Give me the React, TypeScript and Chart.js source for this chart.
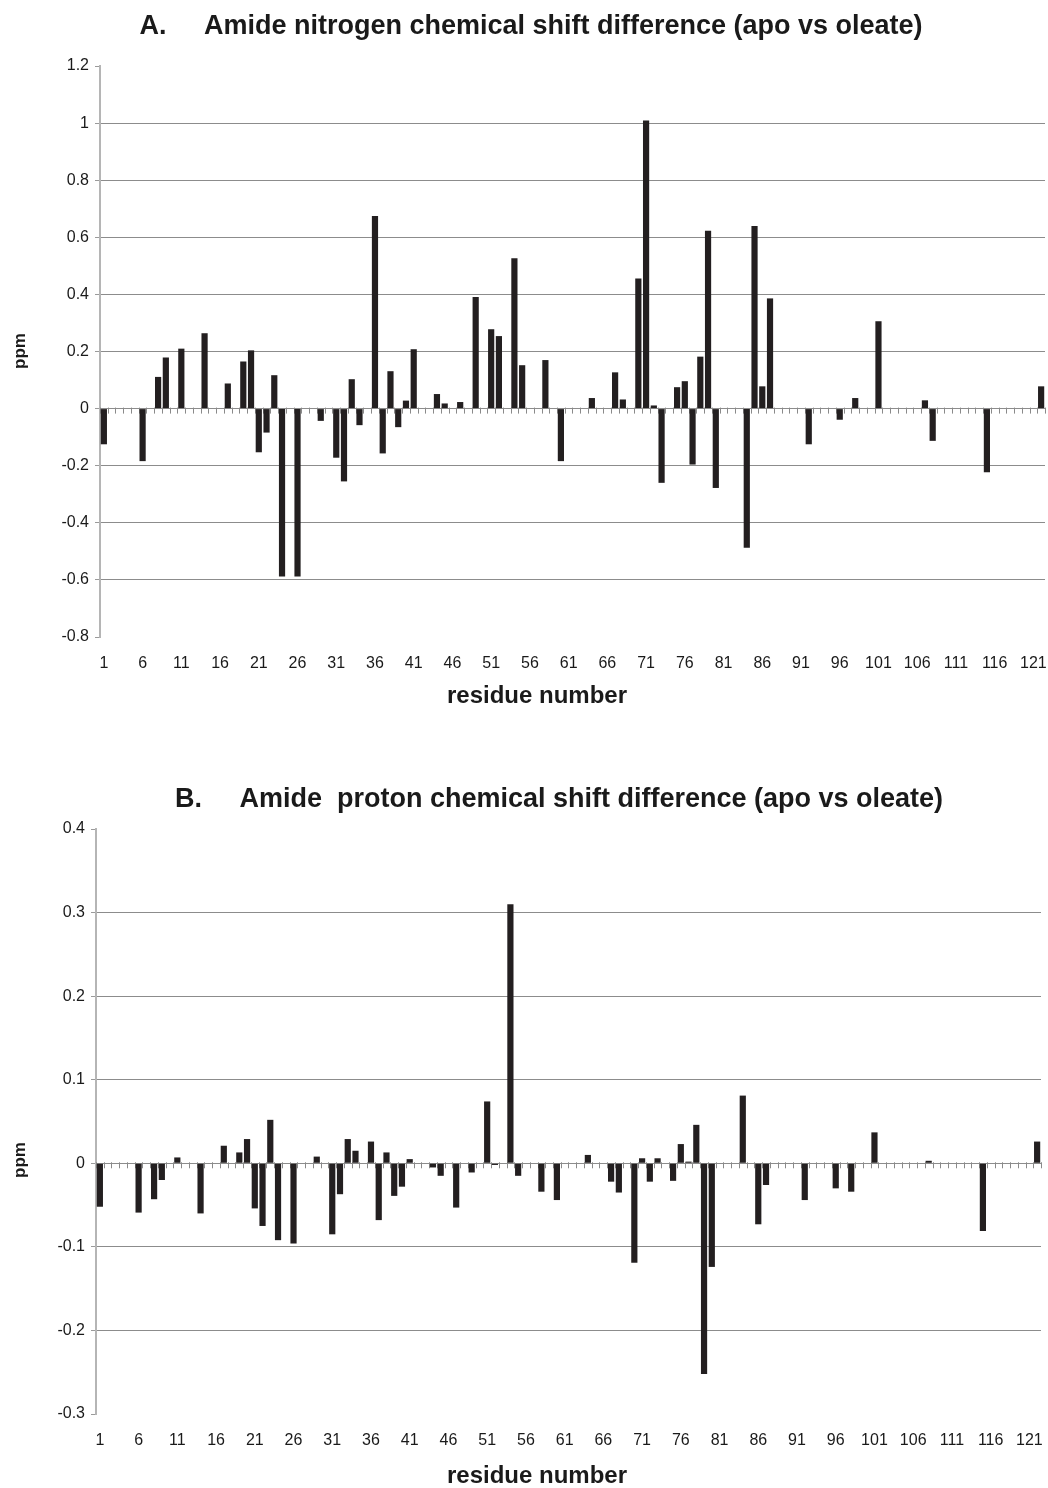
import React, { useEffect, useRef } from 'react';
import { Chart, registerables } from 'chart.js';

Chart.register(...registerables);

// ---- data ----
const residueCount = 122;
const residueLabels: string[] = [];
for (let r = 1; r <= residueCount; r++) residueLabels.push(String(r));

const nitrogenResidues = [1, 6, 8, 9, 11, 14, 17, 19, 20, 21, 22, 23, 24, 26, 29, 31, 32, 33, 34, 36, 37, 38, 39, 40, 41, 44, 45, 47, 49, 51, 52, 54, 55, 58, 60, 64, 67, 68, 70, 71, 72, 73, 75, 76, 77, 78, 79, 80, 84, 85, 86, 87, 92, 96, 98, 101, 107, 108, 115, 122];
const nitrogenShifts = [-0.125, -0.184, 0.111, 0.179, 0.21, 0.264, 0.088, 0.165, 0.204, -0.153, -0.084, 0.117, -0.588, -0.588, -0.043, -0.172, -0.255, 0.103, -0.058, 0.675, -0.157, 0.131, -0.065, 0.028, 0.208, 0.051, 0.018, 0.023, 0.391, 0.278, 0.254, 0.527, 0.152, 0.17, -0.184, 0.037, 0.127, 0.032, 0.456, 1.009, 0.011, -0.26, 0.075, 0.096, -0.196, 0.182, 0.623, -0.278, -0.487, 0.64, 0.078, 0.386, -0.125, -0.039, 0.037, 0.306, 0.029, -0.113, -0.223, 0.078];

const protonResidues = [1, 6, 8, 9, 11, 14, 17, 19, 20, 21, 22, 23, 24, 26, 29, 31, 32, 33, 34, 36, 37, 38, 39, 40, 41, 44, 45, 47, 49, 51, 52, 54, 55, 58, 60, 64, 67, 68, 70, 71, 72, 73, 75, 76, 77, 78, 79, 80, 84, 86, 87, 92, 96, 98, 101, 108, 115, 122];
const protonShifts = [-0.052, -0.059, -0.043, -0.02, 0.007, -0.06, 0.021, 0.013, 0.029, -0.054, -0.075, 0.052, -0.092, -0.096, 0.008, -0.085, -0.037, 0.029, 0.015, 0.026, -0.068, 0.013, -0.039, -0.028, 0.005, -0.005, -0.015, -0.053, -0.011, 0.074, -0.002, 0.31, -0.015, -0.034, -0.044, 0.01, -0.022, -0.035, -0.119, 0.006, -0.022, 0.006, -0.021, 0.023, 0.002, 0.046, -0.252, -0.124, 0.081, -0.073, -0.026, -0.044, -0.03, -0.034, 0.037, 0.003, -0.081, 0.026];

const nitrogenAxis = { min: -0.8, max: 1.2, step: 0.2 };
const protonAxis = { min: -0.3, max: 0.4, step: 0.1 };

const titleA = 'A.     Amide nitrogen chemical shift difference (apo vs oleate)';
const titleB = 'B.     Amide  proton chemical shift difference (apo vs oleate)';
const xTitle = 'residue number';
const yTitle = 'ppm';

const FONT = '"Liberation Sans", Arial, sans-serif';

function toSeries(residues: number[], values: number[]): (number | null)[] {
  const out: (number | null)[] = residueLabels.map(() => null);
  residues.forEach((r, i) => {
    out[r - 1] = values[i];
  });
  return out;
}

type TextItem = { text: string; x: number; y: number; size: number; rotate?: boolean };

function makeTextPlugin(items: TextItem[]) {
  return {
    id: 'freeText',
    afterDraw(chart: any) {
      const ctx = chart.ctx;
      ctx.save();
      ctx.fillStyle = '#1a1a1a';
      ctx.textAlign = 'center';
      ctx.textBaseline = 'middle';
      for (const t of items) {
        ctx.font = `bold ${t.size}px ${FONT}`;
        ctx.save();
        ctx.translate(t.x, t.y);
        if (t.rotate) ctx.rotate(-Math.PI / 2);
        ctx.fillText(t.text, 0, 0);
        ctx.restore();
      }
      ctx.restore();
    },
  };
}

const zeroTicksPlugin = {
  id: 'zeroTicks',
  beforeDatasetsDraw(chart: any) {
    const xs = chart.scales.x;
    const ys = chart.scales.y;
    const ctx = chart.ctx;
    const y0 = ys.getPixelForValue(0);
    const half = (xs.getPixelForValue(1) - xs.getPixelForValue(0)) / 2;
    ctx.save();
    ctx.strokeStyle = '#8a8a8a';
    ctx.lineWidth = 1;
    ctx.beginPath();
    for (let i = 0; i <= residueLabels.length; i++) {
      const px = Math.round(xs.getPixelForValue(i) - half) + 0.5;
      ctx.moveTo(px, y0 - 1);
      ctx.lineTo(px, y0 + 5);
    }
    ctx.stroke();
    ctx.restore();
  },
};

type PanelProps = {
  width: number;
  height: number;
  values: (number | null)[];
  axis: { min: number; max: number; step: number };
  plotLeft: number;
  plotRight: number;
  plotTop: number;
  plotBottom: number;
  texts: TextItem[];
};

function Panel(p: PanelProps) {
  const ref = useRef<HTMLCanvasElement | null>(null);
  useEffect(() => {
    if (!ref.current) return;
    const gridColor = (c: any) => {
      const v = c.tick ? c.tick.value : 0;
      if (Math.abs(v - p.axis.max) < 1e-9 || Math.abs(v - p.axis.min) < 1e-9) return 'rgba(0,0,0,0)';
      return '#8c8c8c';
    };
    const chart = new Chart(ref.current, {
      type: 'bar',
      data: {
        labels: residueLabels,
        datasets: [
          {
            data: p.values,
            backgroundColor: '#231f20',
            borderWidth: 0,
            barPercentage: 0.8,
            categoryPercentage: 1,
          },
        ],
      },
      options: {
        animation: false,
        responsive: false,
        devicePixelRatio: 1,
        layout: {
          padding: { top: p.plotTop, left: 0, right: p.width - p.plotRight, bottom: 0 },
        },
        plugins: {
          legend: { display: false },
          title: { display: false },
          tooltip: { enabled: false },
        },
        scales: {
          x: {
            type: 'category',
            offset: true,
            grid: { display: false, drawTicks: true, tickLength: 17 },
            border: { display: false },
            ticks: {
              autoSkip: false,
              maxRotation: 0,
              minRotation: 0,
              padding: 0,
              color: '#1a1a1a',
              font: { family: FONT, size: 16 },
              callback: (_v: any, i: number) => (i % 5 === 0 ? residueLabels[i] : ''),
            },
            afterFit: (s: any) => {
              s.height = p.height - p.plotBottom;
              s.paddingLeft = 0;
              s.paddingRight = 0;
            },
          },
          y: {
            min: p.axis.min,
            max: p.axis.max,
            grid: {
              color: gridColor,
              lineWidth: 1,
              drawTicks: true,
              tickLength: 5,
              tickColor: '#9a9a9a',
            },
            border: { display: true, color: '#b5b5b5', width: 2 },
            ticks: {
              stepSize: p.axis.step,
              padding: 6,
              color: '#1a1a1a',
              font: { family: FONT, size: 16 },
              callback: (v: any) => String(Number(Number(v).toFixed(2))),
            },
            afterFit: (s: any) => {
              s.width = p.plotLeft;
            },
          },
        },
      },
      plugins: [zeroTicksPlugin, makeTextPlugin(p.texts)],
    } as any);
    return () => chart.destroy();
  }, []);
  return <canvas ref={ref} width={p.width} height={p.height} style={{ display: 'block' }} />;
}

export default function App() {
  return (
    <div style={{ position: 'absolute', left: 0, top: 0, width: 1048, height: 1488, background: '#fff' }}>
      <Panel
        width={1048}
        height={740}
        values={toSeries(nitrogenResidues, nitrogenShifts)}
        axis={nitrogenAxis}
        plotLeft={100}
        plotRight={1045}
        plotTop={66}
        plotBottom={637}
        texts={[
          { text: titleA, x: 531, y: 27, size: 27 },
          { text: yTitle, x: 20, y: 351, size: 17, rotate: true },
          { text: xTitle, x: 537, y: 696, size: 24 },
        ]}
      />
      <Panel
        width={1048}
        height={748}
        values={toSeries(protonResidues, protonShifts)}
        axis={protonAxis}
        plotLeft={96}
        plotRight={1041}
        plotTop={89}
        plotBottom={674}
        texts={[
          { text: titleB, x: 559, y: 60, size: 27 },
          { text: yTitle, x: 20, y: 420, size: 17, rotate: true },
          { text: xTitle, x: 537, y: 736, size: 24 },
        ]}
      />
    </div>
  );
}
